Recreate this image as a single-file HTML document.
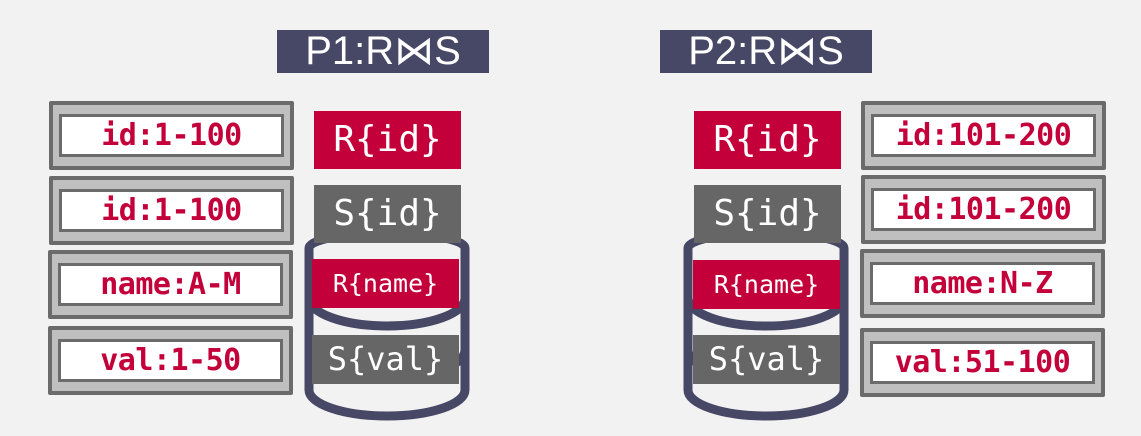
<!DOCTYPE html>
<html><head><meta charset="utf-8"><style>
body{margin:0;width:1141px;height:436px;background:#f2f2f2;position:relative;overflow:hidden;font-family:"DejaVu Sans Mono","Liberation Mono",monospace}
.t{position:absolute;background:#474766;color:#fff;font-family:"Liberation Sans","DejaVu Sans",sans-serif;font-size:40px;font-weight:300;text-align:center;line-height:43px;height:43px;width:212px;top:30px}
.ob{position:absolute;width:237px;height:61px;border:4px solid #6b6b6b;background:#bfbfbf;border-radius:2px}
.ib{position:absolute;left:6px;top:9px;right:6px;bottom:9px;border:3px solid #6b6b6b;background:#fff;color:#c3003a;font-weight:bold;font-size:30px;text-align:center;line-height:37px;letter-spacing:-0.5px}
.lb{position:absolute;color:#fff;text-align:center;font-size:32px}
.r{background:#c3003a}.g{background:#666}
</style></head><body>
<div class="t" style="left:277px">P1:R⋈S</div>
<div class="t" style="left:660px">P2:R⋈S</div>

<div class="ob" style="left:49px;top:101px"><div class="ib">id:1-100</div></div>
<div class="ob" style="left:49px;top:176px"><div class="ib">id:1-100</div></div>
<div class="ob" style="left:48px;top:250px"><div class="ib">name:A-M</div></div>
<div class="ob" style="left:48px;top:326px"><div class="ib">val:1-50</div></div>

<div class="ob" style="left:861px;top:101px"><div class="ib">id:101-200</div></div>
<div class="ob" style="left:861px;top:175px"><div class="ib">id:101-200</div></div>
<div class="ob" style="left:860px;top:249px"><div class="ib">name:N-Z</div></div>
<div class="ob" style="left:860px;top:328px"><div class="ib">val:51-100</div></div>

<svg width="1141" height="436" style="position:absolute;left:0;top:0">
<g fill="none" stroke="#474766" stroke-width="9">
<path d="M309,248 L309,298 A78,28 0 0 0 465,298 L465,248 A78,15 0 0 0 309,248 Z"/>
<path d="M309,298 L309,350 A78,28 0 0 0 465,350 L465,298"/>
<path d="M309,350 L309,390 A78,26 0 0 0 465,390 L465,350"/>
<path d="M688,248 L688,298 A78,28 0 0 0 844,298 L844,248 A78,15 0 0 0 688,248 Z"/>
<path d="M688,298 L688,350 A78,28 0 0 0 844,350 L844,298"/>
<path d="M688,350 L688,390 A78,26 0 0 0 844,390 L844,350"/>
</g></svg>

<div class="lb r" style="left:314px;top:111px;width:147px;height:58px;line-height:58px;font-size:36px">R{id}</div>
<div class="lb g" style="left:314px;top:185px;width:147px;height:58px;line-height:58px;font-size:36px">S{id}</div>
<div class="lb r" style="left:312px;top:259px;width:147px;height:49px;line-height:49px;font-size:25px">R{name}</div>
<div class="lb g" style="left:312px;top:335px;width:147px;height:49px;line-height:49px;font-size:32px">S{val}</div>

<div class="lb r" style="left:694px;top:111px;width:147px;height:58px;line-height:58px;font-size:36px">R{id}</div>
<div class="lb g" style="left:694px;top:185px;width:147px;height:58px;line-height:58px;font-size:36px">S{id}</div>
<div class="lb r" style="left:693px;top:260px;width:147px;height:49px;line-height:49px;font-size:25px">R{name}</div>
<div class="lb g" style="left:693px;top:335px;width:147px;height:49px;line-height:49px;font-size:32px">S{val}</div>
</body></html>
